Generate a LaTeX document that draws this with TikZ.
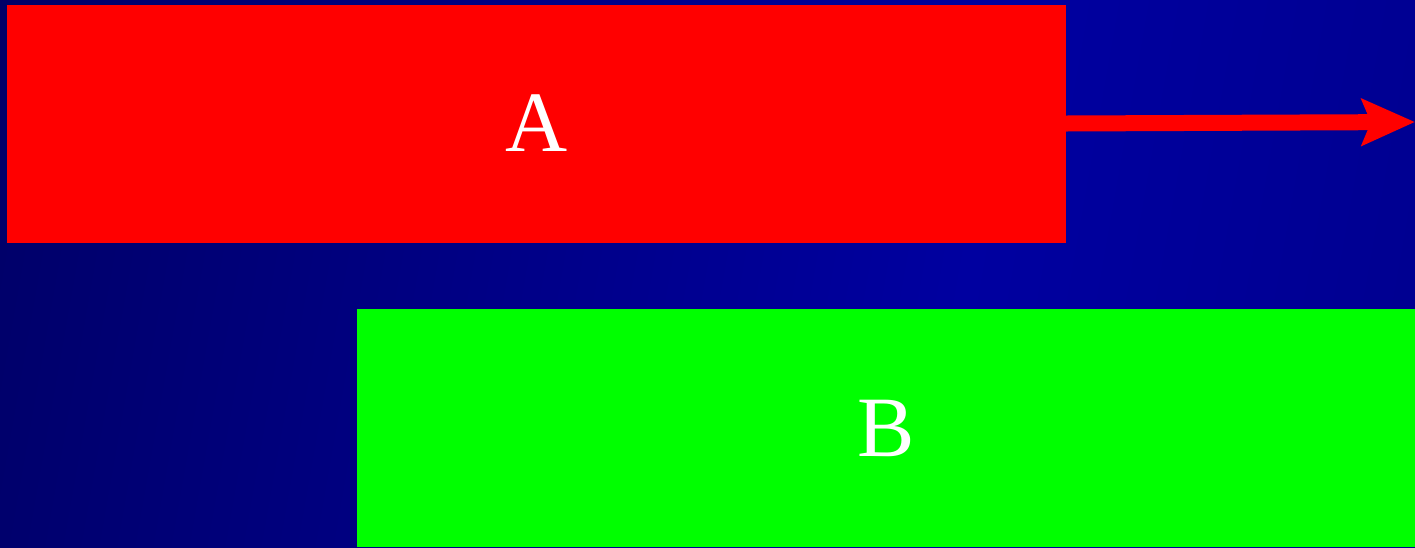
\documentclass[tikz,border=0pt]{standalone}
\usepackage{fontspec}
\setmainfont{Liberation Serif}
\usetikzlibrary{arrows.meta}
\definecolor{bgA}{RGB}{0,0,88}
\definecolor{bgB}{RGB}{0,0,160}
\definecolor{bgC}{RGB}{0,0,125}
\definecolor{boxred}{RGB}{255,0,0}
\definecolor{boxgreen}{RGB}{0,255,0}
\pgfdeclarehorizontalshading{bgshade}{100bp}{color(0bp)=(bgA); color(10bp)=(bgA); color(60bp)=(bgB); color(100bp)=(bgC)}
\tikzset{
  bigbox/.style={draw=none, minimum width=1059pt, minimum height=238pt, inner sep=0pt,
    text=white, font=\fontsize{86}{90}\selectfont},
  flowarrow/.style={draw=boxred, line width=16pt, -{Stealth[length=53pt, width=46pt, inset=9pt]}}
}
\begin{document}
\begin{tikzpicture}[x=1pt,y=-1pt]
  \useasboundingbox (0,0) rectangle (1415,547);
  \shade[shading=bgshade, shading angle=-10] (0,0) rectangle (1415,547);
  \node[bigbox, fill=boxred] (A) at (536.5,123.5) {A};
  \node[bigbox, fill=boxgreen] (B) at (886.5,428) {B};
  \coordinate (tip) at (1415,122);
  \draw[flowarrow] (A.east) -- (tip);
\end{tikzpicture}
\end{document}
